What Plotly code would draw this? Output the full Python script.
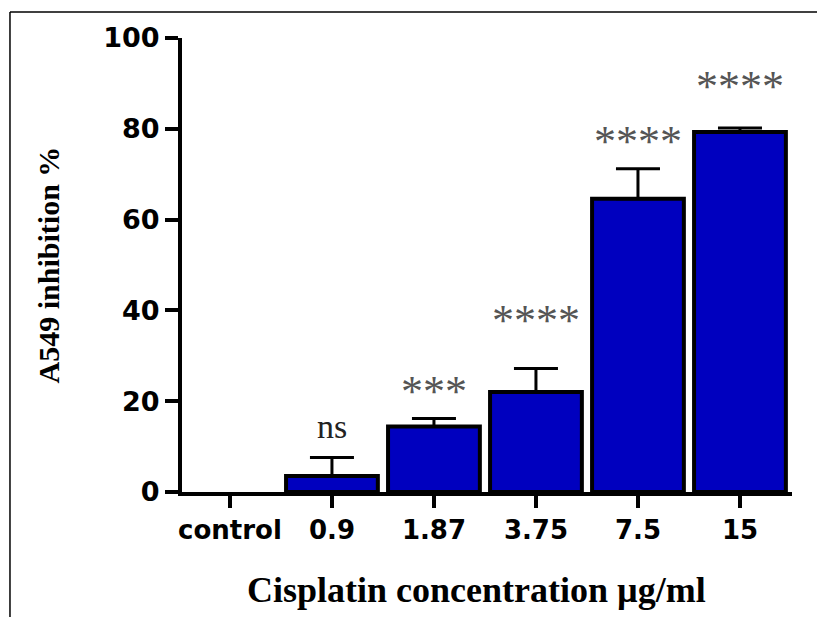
import plotly.graph_objects as go

categories = ["control", "0.9", "1.87", "3.75", "7.5", "15"]
inhibition = [0.0, 3.5, 14.4, 22.0, 64.6, 79.3]
sem_upper = [0.0, 4.1, 1.8, 5.2, 6.6, 0.9]
significance = ["", "ns", "***", "****", "****", "****"]
sig_y = [0, 14.5, 22.2, 37.8, 77.3, 89.4]
y_ticks = [0, 20, 40, 60, 80, 100]

fig = go.Figure()
fig.add_trace(go.Bar(
    x=categories,
    y=inhibition,
    marker=dict(color="#0000bf",
                line=dict(color="black", width=[0, 4, 4, 4, 4, 4])),
    showlegend=False,
))

# upward SEM error bars (control has none visible)
err_x = [c for c, e in zip(categories, sem_upper) if e > 0]
err_y = [v for v, e in zip(inhibition, sem_upper) if e > 0]
err_e = [e for e in sem_upper if e > 0]
fig.add_trace(go.Scatter(
    x=err_x, y=err_y, mode="markers",
    marker=dict(size=1, opacity=0),
    error_y=dict(type="data", symmetric=False, array=err_e,
                 arrayminus=[0] * len(err_e),
                 color="black", thickness=3, width=22),
    showlegend=False, hoverinfo="skip",
))

for i, (lab, yy) in enumerate(zip(significance, sig_y)):
    if not lab:
        continue
    is_ns = lab == "ns"
    fig.add_annotation(
        x=i, y=yy, xref="x", yref="y",
        text=lab,
        showarrow=False, yanchor="middle",
        font=dict(family="Liberation Serif", size=34 if is_ns else 44,
                  color="#222222" if is_ns else "#555555"),
    )

# axis titles
fig.add_annotation(
    x=-0.219, y=0.5, xref="paper", yref="paper",
    text="<b>A549 inhibition %</b>", textangle=-90, showarrow=False,
    xanchor="center", yanchor="middle",
    font=dict(family="Liberation Serif", size=30, color="black"),
)
fig.add_annotation(
    x=0.482, y=-0.215, xref="paper", yref="paper",
    text="<b>Cisplatin concentration µg/ml</b>", showarrow=False,
    xanchor="center", yanchor="middle",
    font=dict(family="Liberation Serif", size=36, color="black"),
)

# outer frame (top and left edges)
fig.add_shape(type="line", xref="paper", yref="paper",
              x0=-0.282, x1=1.05, y0=1.0573, y1=1.0573,
              line=dict(color="black", width=1.5))
fig.add_shape(type="line", xref="paper", yref="paper",
              x0=-0.282, x1=-0.282, y0=1.0573, y1=-0.3,
              line=dict(color="black", width=1.5))

fig.update_layout(
    width=817, height=617,
    margin=dict(l=182, r=25, t=38, b=125),
    paper_bgcolor="white", plot_bgcolor="white",
    bargap=0.1,
    xaxis=dict(
        type="category", range=[-0.47, 5.51],
        showline=True, linecolor="black", linewidth=4,
        ticks="outside", ticklen=12, tickwidth=4, tickcolor="black",
        showgrid=False, zeroline=False,
        tickfont=dict(family="DejaVu Sans", size=26, color="black", weight="bold"),
    ),
    yaxis=dict(
        range=[0, 100], tickvals=y_ticks,
        showline=True, linecolor="black", linewidth=4,
        ticks="outside", ticklen=13, tickwidth=4, tickcolor="black",
        showgrid=False, zeroline=False,
        tickfont=dict(family="DejaVu Sans", size=27, color="black", weight="bold"),
    ),
)

fig.write_html("out.html")
